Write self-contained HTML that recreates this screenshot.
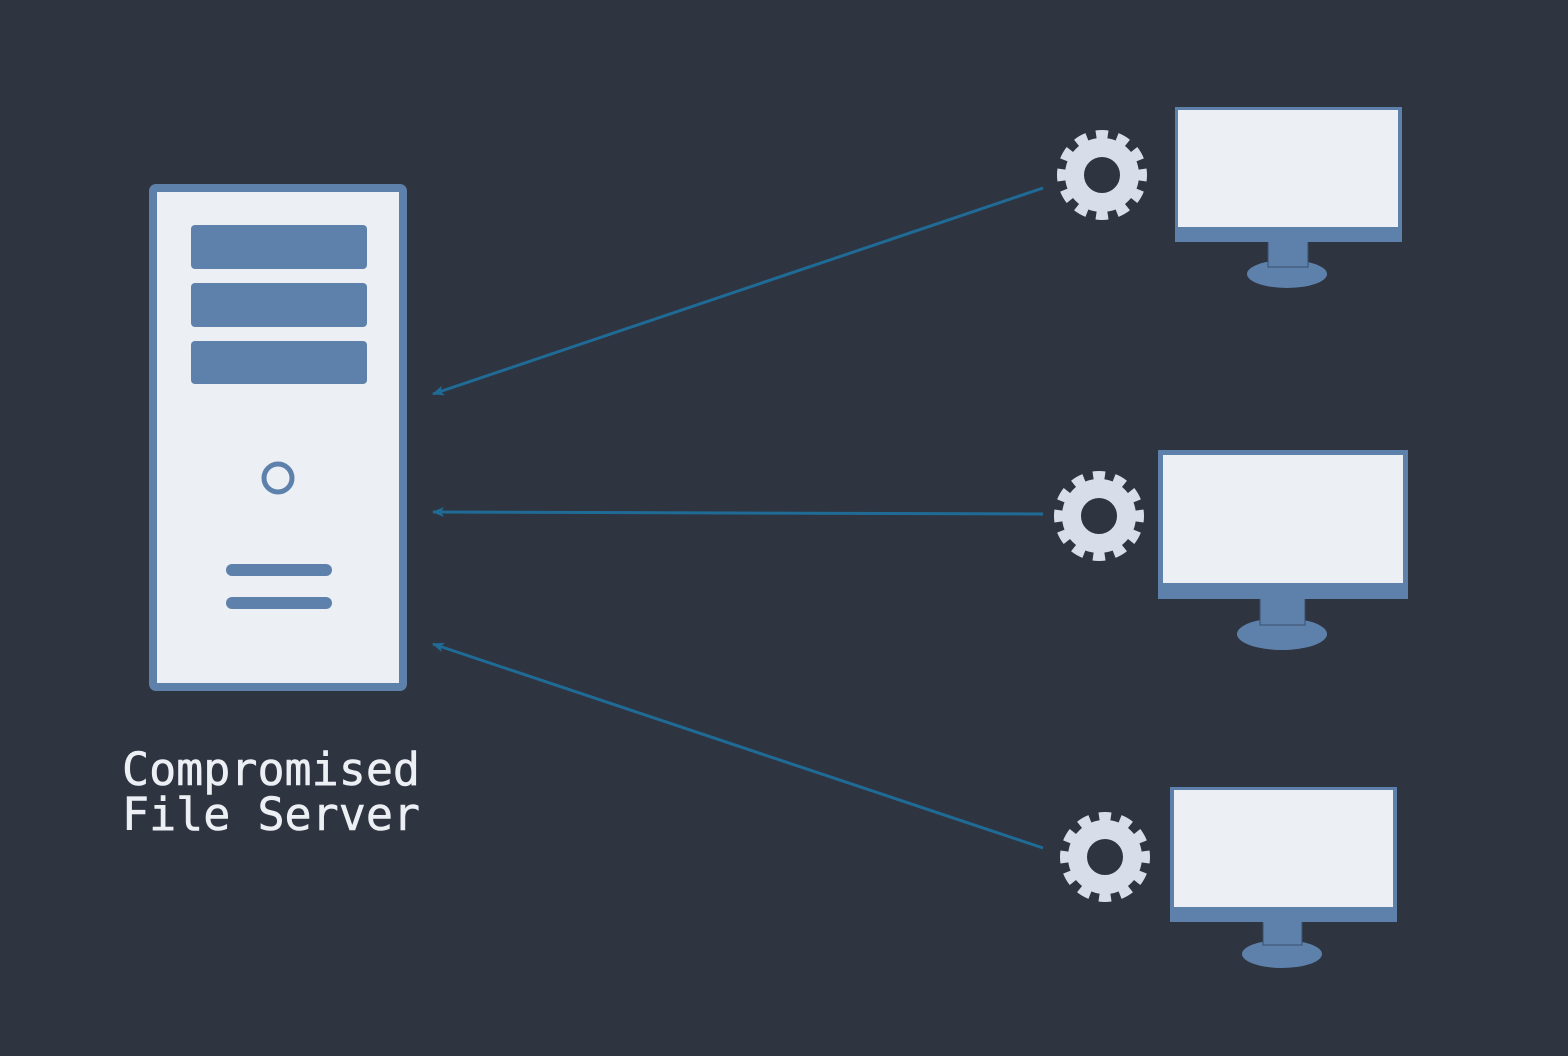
<!DOCTYPE html>
<html>
<head>
<meta charset="utf-8">
<style>
  html, body { margin: 0; padding: 0; background: #2e3440; }
  body { width: 1568px; height: 1056px; overflow: hidden; }
  svg { display: block; }
</style>
</head>
<body>
<svg width="1568" height="1056" viewBox="0 0 1568 1056" xmlns="http://www.w3.org/2000/svg">
  <defs>
    <marker id="ah" markerWidth="12" markerHeight="10" refX="11" refY="5" orient="auto" markerUnits="userSpaceOnUse">
      <path d="M0,0 L12,5 L0,10 L3,5 Z" fill="#1f6b96"/>
    </marker>
  </defs>
  <rect width="1568" height="1056" fill="#2e3440"/>

  <!-- Server -->
  <rect x="153" y="188" width="250" height="499" rx="3" fill="#eceff4" stroke="#5e81ac" stroke-width="8"/>
  <rect x="191" y="225" width="176" height="44" rx="4" fill="#5e81ac"/>
  <rect x="191" y="283" width="176" height="44" rx="4" fill="#5e81ac"/>
  <rect x="191" y="341" width="176" height="43" rx="4" fill="#5e81ac"/>
  <circle cx="278" cy="478" r="14" fill="none" stroke="#5e81ac" stroke-width="5"/>
  <line x1="232" y1="570" x2="326" y2="570" stroke="#5e81ac" stroke-width="12" stroke-linecap="round"/>
  <line x1="232" y1="603" x2="326" y2="603" stroke="#5e81ac" stroke-width="12" stroke-linecap="round"/>

  <text x="122" y="785" font-family="'DejaVu Sans Mono', 'Liberation Mono', monospace" font-size="45" fill="#eceff4" stroke="#eceff4" stroke-width="0.6">Compromised</text>
  <text x="122" y="830" font-family="'DejaVu Sans Mono', 'Liberation Mono', monospace" font-size="45" fill="#eceff4" stroke="#eceff4" stroke-width="0.6" xml:space="preserve">File Server</text>

  <!-- Connectors -->
  <line x1="1043" y1="188" x2="433" y2="394" stroke="#1f6b96" stroke-width="3" marker-end="url(#ah)"/>
  <line x1="1043" y1="514" x2="433" y2="512" stroke="#1f6b96" stroke-width="3" marker-end="url(#ah)"/>
  <line x1="1043" y1="848" x2="433" y2="644" stroke="#1f6b96" stroke-width="3" marker-end="url(#ah)"/>

  <!-- Gears -->
  <g fill="none" stroke="#d8dee9" stroke-linejoin="round">
    <g transform="translate(1102,175)">
      <circle r="40.5" stroke-width="9" pathLength="120" stroke-dasharray="5.6 4.4" stroke-dashoffset="2.8"/>
      <circle r="27.5" stroke-width="19"/>
    </g>
    <g transform="translate(1099,516)">
      <circle r="40.5" stroke-width="9" pathLength="120" stroke-dasharray="5.6 4.4" stroke-dashoffset="2.8"/>
      <circle r="27.5" stroke-width="19"/>
    </g>
    <g transform="translate(1105,857)">
      <circle r="40.5" stroke-width="9" pathLength="120" stroke-dasharray="5.6 4.4" stroke-dashoffset="2.8"/>
      <circle r="27.5" stroke-width="19"/>
    </g>
  </g>

  <!-- Monitor 1 -->
  <ellipse cx="1287" cy="274" rx="40" ry="14" fill="#5e81ac"/>
  <rect x="1268" y="240" width="40" height="27" fill="#5e81ac" stroke="#3b4f6b" stroke-width="1"/>
  <rect x="1175" y="107" width="227" height="135" fill="#5e81ac"/>
  <rect x="1178" y="110" width="220" height="117" fill="#eceff4"/>

  <!-- Monitor 2 -->
  <ellipse cx="1282" cy="634" rx="45" ry="16" fill="#5e81ac"/>
  <rect x="1260" y="597" width="45" height="28" fill="#5e81ac" stroke="#3b4f6b" stroke-width="1"/>
  <rect x="1158" y="450" width="250" height="149" fill="#5e81ac"/>
  <rect x="1163" y="455" width="240" height="128" fill="#eceff4"/>

  <!-- Monitor 3 -->
  <ellipse cx="1282" cy="954" rx="40" ry="14" fill="#5e81ac"/>
  <rect x="1263" y="920" width="39" height="25" fill="#5e81ac" stroke="#3b4f6b" stroke-width="1"/>
  <rect x="1170" y="787" width="227" height="135" fill="#5e81ac"/>
  <rect x="1174" y="790" width="219" height="117" fill="#eceff4"/>
</svg>
</body>
</html>
